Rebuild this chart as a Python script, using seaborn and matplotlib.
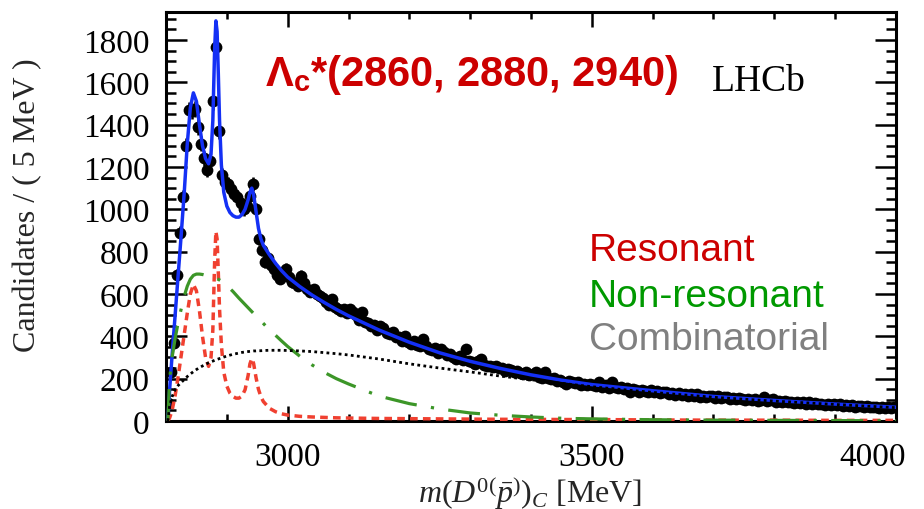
import numpy as np
import matplotlib
matplotlib.use("Agg")
import matplotlib.pyplot as plt
from matplotlib.ticker import MultipleLocator
from matplotlib.transforms import ScaledTranslation
import seaborn as sns

# ---------------- data ----------------
bin_lo = 2800.0
bin_width = 5.0
counts = [
    85, 230, 370, 690, 890, 1060, 1300, 1470, 1465, 1475,
    1390, 1310, 1240, 1185, 1230, 1510, 1765, 1370, 1160, 1130,
    1120, 1095, 1070, 1060, 1030, 1000, 1015, 1065, 1120, 1000,
    860, 810, 750, 770, 735, 720, 690, 672, 700, 718,
    680, 656, 650, 640, 686, 650, 625, 610, 623, 600,
    592, 580, 560, 548, 576, 540, 530, 520, 528, 510,
    529, 515, 500, 478, 513, 470, 462, 448, 455, 430,
    450, 440, 415, 410, 420, 398, 397, 380, 403, 372,
    365, 378, 360, 352, 387, 356, 340, 335, 345, 320,
    340, 324, 310, 318, 300, 295, 305, 290, 340, 285,
    278, 270, 282, 293, 265, 260, 261, 255, 262, 248,
    250, 238, 246, 240, 232, 238, 228, 222, 230, 215,
    220, 230, 210, 205, 230, 202, 198, 205, 190, 196,
    185, 175, 188, 182, 178, 186, 172, 176, 168, 175,
    170, 165, 183, 162, 168, 158, 183, 160, 155, 162,
    150, 155, 137, 151, 145, 135, 148, 140, 138, 145,
    136, 142, 130, 135, 138, 128, 132, 125, 134, 122,
    128, 120, 126, 118, 128, 115, 120, 112, 118, 116,
    110, 118, 108, 112, 115, 105, 110, 102, 108, 104,
    100, 106, 98, 102, 96, 100, 112, 95, 98, 104,
    92, 96, 90, 94, 88, 92, 86, 90, 85, 88,
    82, 90, 80, 84, 78, 82, 76, 80, 75, 78,
    74, 78, 72, 75, 70, 74, 68, 72, 70, 66,
    70, 64, 68, 65, 62, 66, 60, 64, 62, 66,
]

curve_mass = [2803, 2806, 2810, 2815, 2820, 2825, 2830, 2835, 2840, 2845,
              2850, 2855, 2860, 2865, 2870, 2874, 2877, 2880, 2882, 2884,
              2886, 2888, 2891, 2895, 2900, 2905, 2910, 2915, 2920, 2925,
              2930, 2935, 2938, 2941, 2944, 2948, 2952, 2956, 2960, 2970,
              2980, 2990, 3000, 3020, 3040, 3060, 3080, 3100, 3150, 3200,
              3250, 3300, 3350, 3400, 3450, 3500, 3600, 3700, 3800, 3900, 4000]

total_fit = [0, 150, 310, 500, 690, 880, 1080, 1310, 1480, 1550,
             1510, 1400, 1300, 1240, 1215, 1260, 1420, 1760, 1890, 1840,
             1640, 1420, 1210, 1080, 1015, 985, 970, 963, 963, 975,
             1000, 1045, 1080, 1100, 1070, 990, 910, 860, 830, 785,
             745, 710, 680, 635, 595, 560, 527, 497, 430, 372,
             322, 282, 248, 218, 193, 172, 143, 116, 97, 80, 65]

resonant = [0, 15, 50, 120, 210, 310, 410, 510, 600, 645,
            615, 520, 400, 300, 258, 300, 430, 760, 895, 860,
            700, 530, 360, 230, 165, 132, 116, 108, 108, 118,
            148, 215, 270, 295, 272, 205, 150, 115, 92, 60,
            44, 34, 28, 22, 19, 17, 15, 14, 12, 11,
            10, 9, 8, 8, 7, 7, 5, 4, 4, 3, 3]

nonresonant = [0, 200, 300, 390, 465, 530, 590, 637, 670, 688,
               694, 694, 692, 688, 684, 681, 679, 676, 674, 672,
               669, 666, 661, 653, 640, 626, 612, 596, 580, 565,
               550, 535, 526, 517, 508, 496, 485, 473, 461, 430,
               405, 378, 352, 306, 265, 230, 200, 175, 118, 82,
               57, 38, 27, 19, 13, 10, 6, 4, 3, 2, 1]

combinatorial = [0, 70, 115, 148, 168, 182, 196, 210, 222, 233,
                 243, 252, 260, 268, 275, 280, 283, 287, 289, 291,
                 293, 295, 298, 302, 307, 311, 315, 318, 321, 324,
                 326, 328, 329, 330, 331, 331, 332, 332, 333, 334,
                 334, 334, 333, 331, 328, 323, 318, 312, 293, 270,
                 250, 232, 212, 195, 178, 162, 135, 112, 94, 78, 63]

legend_labels = ["Resonant", "Non-resonant", "Combinatorial"]
title_states = "*(2860, 2880, 2940)"

# ---------------- style ----------------
sns.set_theme(style="ticks")
plt.rcParams["font.family"] = ["Liberation Serif", "DejaVu Serif"]
plt.rcParams["mathtext.fontset"] = "custom"
plt.rcParams["mathtext.rm"] = "Liberation Serif"
plt.rcParams["mathtext.it"] = "Liberation Serif:italic"
plt.rcParams["mathtext.bf"] = "Liberation Sans:bold"

W, H = 924, 510
fig = plt.figure(figsize=(W / 100, H / 100), dpi=100)
ax_l, ax_r, ax_t, ax_b = 166, 896, 13, 422
ax = fig.add_axes([ax_l / W, 1 - ax_b / H, (ax_r - ax_l) / W, (ax_b - ax_t) / H])

centers = bin_lo + bin_width * (np.arange(len(counts)) + 0.5)
cnt = np.array(counts, dtype=float)

ax.errorbar(centers, cnt, yerr=np.sqrt(cnt), fmt="none", ecolor="black",
            elinewidth=1.8, capsize=0, zorder=2)
sns.scatterplot(x=centers, y=cnt, ax=ax, color="black", s=72, marker="o",
                edgecolor="black", linewidth=0, zorder=3)

sns.lineplot(x=curve_mass, y=total_fit, ax=ax, color="#1430f5", lw=2.5,
             zorder=4, errorbar=None)
sns.lineplot(x=curve_mass, y=resonant, ax=ax, color="#f04030", lw=2.5,
             linestyle=(0, (2.2, 1.5)), zorder=5, errorbar=None)
sns.lineplot(x=curve_mass, y=nonresonant, ax=ax, color="#3c9628", lw=2.3,
             linestyle=(0, (10, 4.5, 1, 4.5)), zorder=5, errorbar=None)
sns.lineplot(x=curve_mass, y=combinatorial, ax=ax, color="black", lw=2.0,
             linestyle=(0, (1, 1.2)), zorder=6, errorbar=None)

ax.set_xlim(2800, 4000)
ax.set_ylim(0, 1932)
ax.xaxis.set_major_locator(MultipleLocator(500))
ax.xaxis.set_minor_locator(MultipleLocator(100))
ax.yaxis.set_major_locator(MultipleLocator(200))
ax.yaxis.set_minor_locator(MultipleLocator(50))
ax.tick_params(which="both", direction="in", top=True, right=True,
               width=1.8, colors="black", labelsize=24)
ax.tick_params(axis="x", which="major", length=11, pad=15)
ax.tick_params(axis="x", which="minor", length=5)
ax.tick_params(axis="y", which="major", length=15, pad=12)
ax.tick_params(axis="y", which="minor", length=7)
for s in ax.spines.values():
    s.set_linewidth(2.2)
    s.set_color("black")
ax.set_xlabel("")
ax.set_ylabel("")
ax.set_facecolor("white")
ax.grid(False)

fig.canvas.draw()
for t in ax.get_xticklabels():
    if t.get_text() == "4000":
        t.set_horizontalalignment("right")
        t.set_transform(t.get_transform() +
                        ScaledTranslation(10 / 100, 0, fig.dpi_scale_trans))


def fx(px):
    return px / W


def fy(py):
    return 1 - py / H


fig.text(fx(28), fy(205), "Candidates / ( 5 MeV )", rotation=90,
         ha="center", va="center", fontsize=23, family="Liberation Serif")
fig.text(fx(530), fy(493), r"$m(D^{\mathit{0}(}\bar{p}^{)})_{C}$ [MeV]",
         ha="center", va="center", fontsize=23, family="Liberation Serif")

fig.text(fx(265), fy(86), "Λ" + r"$_{\mathbf{c}}$" + title_states,
         ha="left", va="baseline", fontsize=30, fontweight="bold",
         family=["Liberation Sans", "DejaVu Sans"], color="#cc0000")
fig.text(fx(712), fy(91), "LHCb", ha="left", va="baseline", fontsize=27,
         family="Liberation Serif", color="black")

leg_colors = ["#cc0000", "#009900", "#808080"]
leg_base = [261, 307, 350]
for lab, col, yb in zip(legend_labels, leg_colors, leg_base):
    fig.text(fx(589), fy(yb), lab, ha="left", va="baseline", fontsize=28,
             family=["Liberation Sans", "DejaVu Sans"], color=col)

fig.savefig("out.png", dpi=100, facecolor="white")
